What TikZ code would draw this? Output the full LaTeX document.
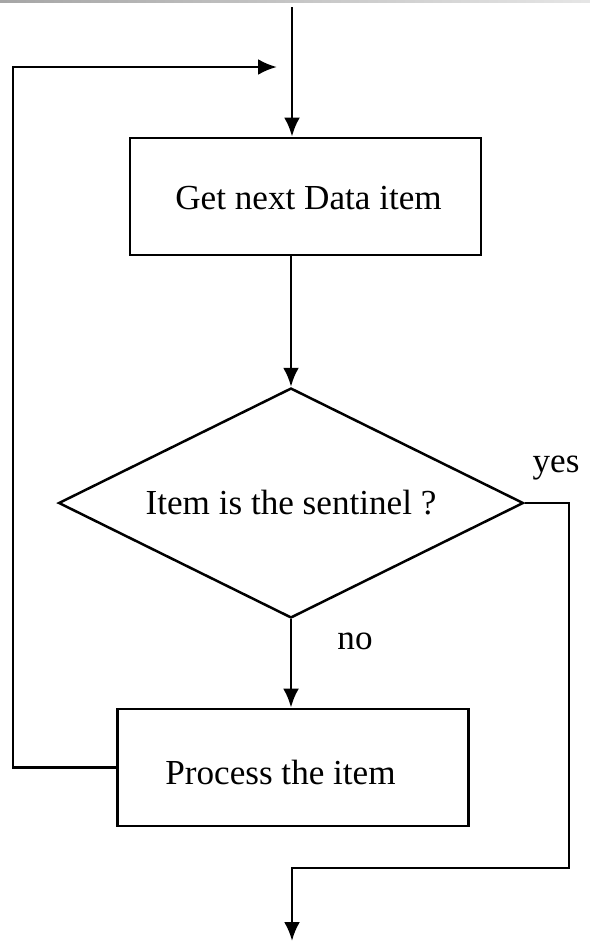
\documentclass[tikz,border=0pt]{standalone}
\usepackage{fontspec}
\setmainfont{Liberation Serif}
\usetikzlibrary{shapes.geometric,arrows.meta}

\begin{document}
\begin{tikzpicture}
	[x=0.02cm, y=-0.02cm,
	font=\fontsize{20}{24}\selectfont,
	block/.style ={rectangle, draw=black, line width=0.058cm, minimum width=7.02cm, minimum height=2.34cm},
	decision/.style ={diamond, draw=black, line width=0.05cm, aspect=2, minimum width=9.3cm, minimum height=4.6cm, inner sep=0pt},
	caption/.style ={anchor=west, inner sep=0pt},
	line/.style ={draw, line width=0.058cm, -{Latex[length=0.38cm,width=0.32cm]}},
	]
	\useasboundingbox (0,0) rectangle (590,943);
	\fill[left color=gray!70, right color=gray!20] (0,0) rectangle (590,2);

	\draw (305.5,196.5) node[block] (get) {};
	\draw (175,198) node[caption] (gettext) {Get next Data item};
	\draw (291,503) node[decision] (test) {Item is the sentinel ?};
	\draw (293,767.5) node[block] (proc) {};
	\draw (165,772) node[caption] (proctext) {Process the item};
	\draw (556,468) node (yes) {yes};
	\draw (355,641) node (no) {no};

	\coordinate (start) at (292,7);
	\coordinate (back) at (13,67);
	\coordinate (merge) at (277,67);
	\coordinate (turn) at (569,868);
	\coordinate (stop) at (292,941);

	\path[line] (start) -- (start |- get.north);
	\path[line] (get.south -| test.north) -- (test.north);
	\path[line] (test.south) -- (test.south |- proc.north);
	\path[line] (proc.west) -| (back) -- (merge);
	\path[line] (test.east) -| (turn) -| (stop);
\end{tikzpicture}
\end{document}
